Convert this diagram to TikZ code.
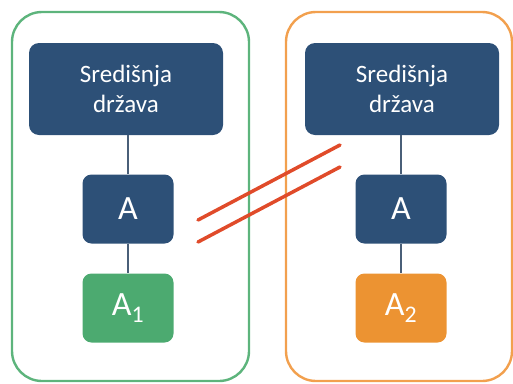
\documentclass[tikz,border=0pt]{standalone}
\usepackage{fontspec}
\setmainfont{Carlito}
\definecolor{navy}{HTML}{2D5077}
\definecolor{grn}{HTML}{4CAA70}
\definecolor{org}{HTML}{EC9332}
\definecolor{grnline}{HTML}{5DB47C}
\definecolor{orgline}{HTML}{F2A04E}
\definecolor{redline}{HTML}{E04B2A}
\definecolor{conn}{HTML}{4A5F78}
\begin{document}
\begin{tikzpicture}[x=1pt,y=-1pt,
  frame/.style={line width=2.4pt,rounded corners=30pt},
  topbox/.style={fill=navy,rounded corners=10pt,minimum width=194pt,minimum height=92pt,text=white,align=center,font=\fontsize{25}{30}\selectfont,inner sep=0pt},
  smallbox/.style={rounded corners=9pt,minimum width=91pt,minimum height=69pt,text=white,font=\fontsize{34}{40}\selectfont,inner sep=0pt},
  conline/.style={draw=conn,line width=1.3pt},
  cross/.style={draw=redline,line width=3.5pt,line cap=round}]
\useasboundingbox (0,0) rectangle (513,383);
\draw[frame,draw=grnline] (12,12) rectangle (249,381);
\draw[frame,draw=orgline] (286,12) rectangle (512,381);
\node[topbox] (s1) at (126,89) {Središnja\\država};
\node[smallbox,fill=navy] (a1) at (128,209) {A};
\node[smallbox,fill=grn] (b1) at (128,308) {A\textsubscript{1}};
\node[topbox] (s2) at (402,89) {Središnja\\država};
\node[smallbox,fill=navy] (a2) at (401,209) {A};
\node[smallbox,fill=org] (b2) at (401,308) {A\textsubscript{2}};
\draw[conline] (s1.south -| a1.north) -- (a1.north);
\draw[conline] (a1) -- (b1);
\draw[conline] (s2.south -| a2.north) -- (a2.north);
\draw[conline] (a2) -- (b2);
\coordinate (p1) at (198,220);
\coordinate (q1) at (340,145);
\coordinate (p2) at (198,242);
\coordinate (q2) at (340,167);
\draw[cross] (p1) -- (q1);
\draw[cross] (p2) -- (q2);
\end{tikzpicture}
\end{document}
